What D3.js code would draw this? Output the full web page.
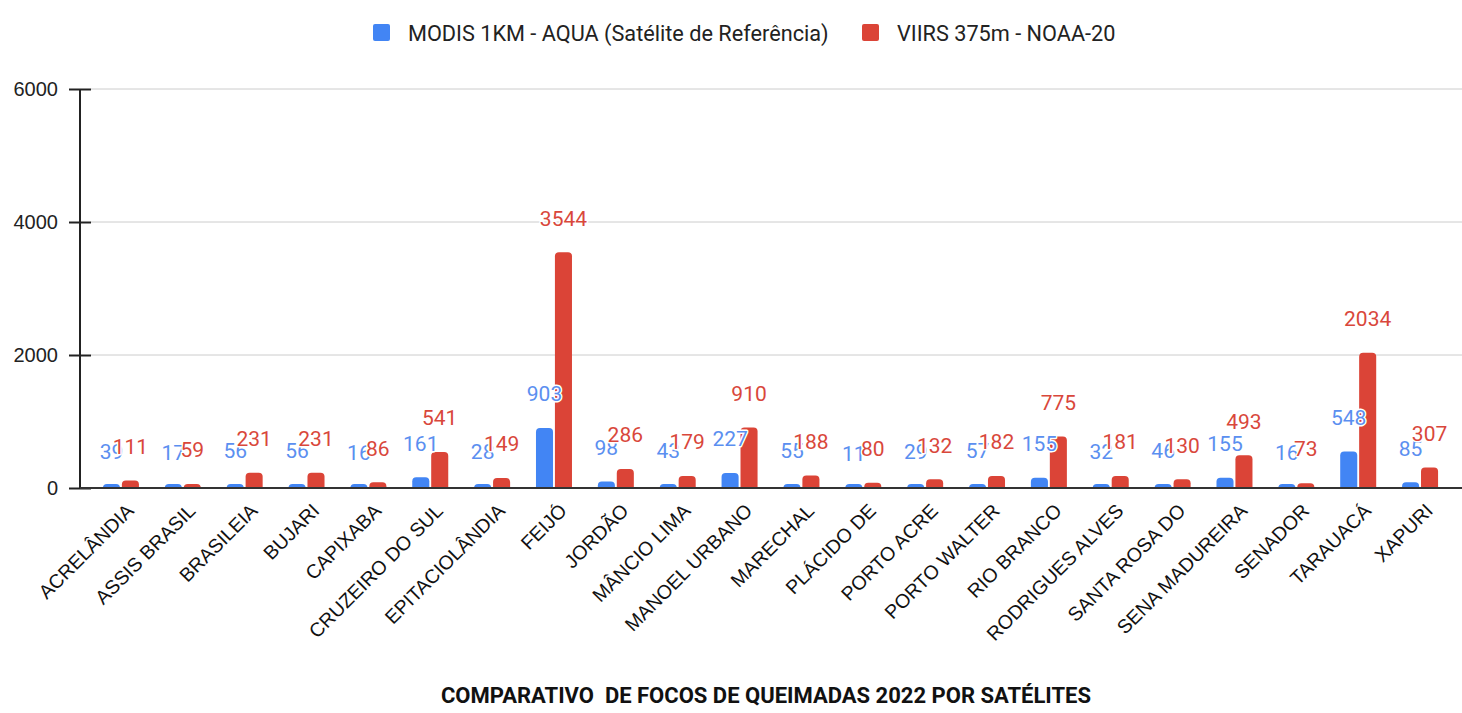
<!DOCTYPE html>
<html><head><meta charset="utf-8">
<script src="https://cdn.jsdelivr.net/npm/d3@7"></script>
<style>body{margin:0;background:#fff;font-family:Roboto,"Noto Sans",sans-serif}</style>
</head><body><svg id="c" width="1462" height="713"></svg>
<script>
const categories = ["ACRELÂNDIA","ASSIS BRASIL","BRASILEIA","BUJARI","CAPIXABA","CRUZEIRO DO SUL","EPITACIOLÂNDIA","FEIJÓ","JORDÃO","MÂNCIO LIMA","MANOEL URBANO","MARECHAL","PLÁCIDO DE","PORTO ACRE","PORTO WALTER","RIO BRANCO","RODRIGUES ALVES","SANTA ROSA DO","SENA MADUREIRA","SENADOR","TARAUACÁ","XAPURI"];
const modis = [39,17,56,56,16,161,28,903,98,43,227,55,11,29,57,155,32,46,155,16,548,85];
const viirs = [111,59,231,231,86,541,149,3544,286,179,910,188,80,132,182,775,181,130,493,73,2034,307];
const seriesNames = ["MODIS 1KM - AQUA (Satélite de Referência)","VIIRS 375m - NOAA-20"];
const yTicks = [0,2000,4000,6000];
const title = "COMPARATIVO  DE FOCOS DE QUEIMADAS 2022 POR SATÉLITES";
const colors = ["#4285f4","#db4437"];
const labelColors = ["#5b8ff0","#d9473b"];

const svg = d3.select("#c");
const font = "Roboto, 'Noto Sans', sans-serif";
const arial = "'Liberation Sans', Arial, sans-serif";
const y = d3.scaleLinear().domain([0,6000]).range([488,89]);
const x = d3.scaleBand().domain(categories).range([90,1451]).paddingInner(0).paddingOuter(0);
const xs = d3.scaleBand().domain([0,1]).range([x.bandwidth()/2-18, x.bandwidth()/2+18]).paddingInner(0.1);

// gridlines
svg.append("g").selectAll("line").data(yTicks.filter(d=>d>0)).join("line")
  .attr("x1",91).attr("x2",1462).attr("y1",d=>y(d)).attr("y2",d=>y(d))
  .attr("stroke","#cccccc").attr("stroke-width",1);

// y axis
const ya = svg.append("g").attr("transform","translate(80,0)")
  .call(d3.axisLeft(y).tickValues(yTicks).tickSize(11).tickPadding(11).tickFormat(d3.format("d")));
ya.select(".domain").attr("stroke","#222").attr("stroke-width",2).attr("d","M0,89V488");
ya.selectAll(".tick line").attr("stroke","#222").attr("stroke-width",2).attr("x2",-11).attr("x1",11);
ya.selectAll(".tick text").attr("font-family",arial).attr("font-size",20).attr("fill","#222");

// bars (rounded tops; tiny values keep a visible rounded cap)
const series = [modis, viirs];
function barPath(x0,w,yt,yb){
  yt = Math.min(yt, yb-4);
  const r=Math.min(4,(yb-yt), w/2);
  return `M${x0},${yb}V${yt+r}Q${x0},${yt} ${x0+r},${yt}H${x0+w-r}Q${x0+w},${yt} ${x0+w},${yt+r}V${yb}Z`;
}
const gB = svg.append("g");
series.forEach((vals,si)=>{
  gB.selectAll(null).data(categories).join("path")
    .attr("d",(c,i)=>barPath(x(c)+xs(si), xs.bandwidth(), y(vals[i]), y(0)))
    .attr("fill",colors[si]);
});

// x baseline
svg.append("line").attr("x1",80).attr("x2",1462).attr("y1",488).attr("y2",488)
  .attr("stroke","#333").attr("stroke-width",2);

// value labels
series.forEach((vals,si)=>{
  svg.append("g").selectAll("text").data(categories).join("text")
    .attr("x",(c,i)=>x(c)+xs(si)+xs.bandwidth()/2)
    .attr("y",(c,i)=>y(vals[i])-34)
    .attr("dy","0.35em").attr("text-anchor","middle")
    .attr("font-family",font).attr("font-size",21)
    .attr("fill",labelColors[si])
    .attr("stroke","#fff").attr("stroke-width",3).attr("paint-order","stroke")
    .attr("stroke-linejoin","round")
    .text((c,i)=>vals[i]);
});

// category labels
svg.append("g").selectAll("text").data(categories).join("text")
  .attr("transform",c=>`translate(${x(c)+x.bandwidth()/2+14},512) rotate(-45)`)
  .attr("text-anchor","end")
  .attr("font-family",arial).attr("font-size",19.5).attr("fill","#111")
  .text(c=>c);

// legend
const leg = [{x:373,tx:408},{x:862,tx:897}];
seriesNames.forEach((n,i)=>{
  svg.append("rect").attr("x",leg[i].x).attr("y",24).attr("width",17).attr("height",17).attr("rx",2).attr("fill",colors[i]);
  svg.append("text").attr("x",leg[i].tx).attr("y",33).attr("dy","0.35em")
    .attr("font-family",font).attr("font-size",21.7).attr("fill","#222").text(n);
});

// title
svg.append("text").attr("x",766).attr("y",703).attr("text-anchor","middle")
  .attr("font-family",font).attr("font-size",22).attr("font-weight","bold").attr("fill","#111")
  .style("white-space","pre").attr("xml:space","preserve").text(title);
</script></body></html>
